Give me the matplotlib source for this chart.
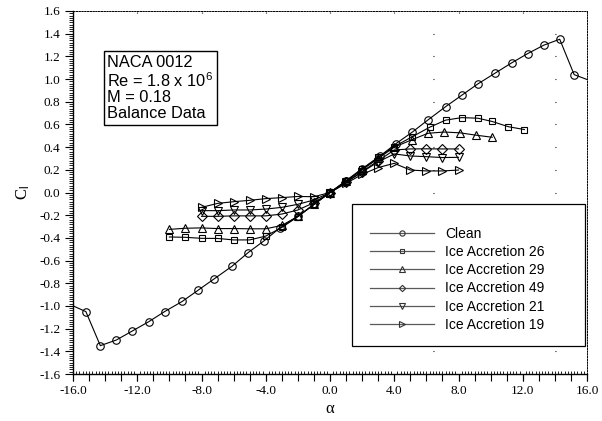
import matplotlib
matplotlib.use("Agg")
import matplotlib.pyplot as plt
from matplotlib.lines import Line2D
from matplotlib.patches import Rectangle
from matplotlib.ticker import MultipleLocator, FormatStrFormatter

plt.rcParams['axes.unicode_minus'] = False
plt.rcParams['lines.scale_dashes'] = False
plt.rcParams['mathtext.fontset'] = 'custom'
plt.rcParams['mathtext.rm'] = 'Liberation Sans'
plt.rcParams['mathtext.it'] = 'Liberation Sans'

# lift curves, alpha in deg
clean_alpha = [-16.3, -15.2, -14.3, -13.3, -12.3, -11.3, -10.3, -9.2, -8.2, -7.2, -6.1,
               -5.1, -4.1, -3.1, -2.0, -1.0, 0.0, 1.0, 2.0, 3.1, 4.1, 5.1, 6.1, 7.2,
               8.2, 9.2, 10.3, 11.3, 12.3, 13.3, 14.3, 15.2, 16.3]
clean_cl = [-0.98, -1.05, -1.35, -1.30, -1.22, -1.14, -1.05, -0.96, -0.86, -0.76, -0.65,
            -0.53, -0.425, -0.31, -0.21, -0.105, 0.0, 0.105, 0.21, 0.32, 0.43, 0.53, 0.64, 0.757,
            0.857, 0.957, 1.054, 1.142, 1.224, 1.298, 1.351, 1.039, 0.98]

ice26_alpha = [-10, -9, -8, -7, -6, -5, -4, -3, -2, -1, 0, 1, 2, 3, 4,
               5.1, 6.2, 7.2, 8.2, 9.2, 10.1, 11.1, 12.1]
ice26_cl = [-0.392, -0.395, -0.404, -0.405, -0.418, -0.418, -0.384, -0.308, -0.213, -0.105,
            0.0, 0.10, 0.205, 0.31, 0.405, 0.49, 0.575, 0.638, 0.66, 0.655, 0.626, 0.58, 0.555]

ice29_alpha = [-10, -9, -8, -7, -6, -5, -4, -3, -2, -1, 0, 1, 2, 3, 4,
               5.1, 6.1, 7.1, 8.1, 9.1, 10.1]
ice29_cl = [-0.325, -0.315, -0.312, -0.318, -0.318, -0.32, -0.32, -0.29, -0.21, -0.105,
            0.0, 0.10, 0.20, 0.30, 0.40, 0.465, 0.522, 0.533, 0.526, 0.505, 0.487]

ice49_alpha = [-8, -7, -6, -5, -4, -3, -2, -1, 0, 1, 2, 3, 4, 5, 6, 7, 8]
ice49_cl = [-0.21, -0.21, -0.206, -0.206, -0.206, -0.19, -0.154, -0.09, 0.0,
            0.09, 0.185, 0.28, 0.375, 0.384, 0.385, 0.384, 0.384]

ice21_alpha = [-8, -7, -6, -5, -4, -3, -2, -1, 0, 1, 2, 3, 4, 5, 6, 7, 8]
ice21_cl = [-0.16, -0.16, -0.154, -0.154, -0.146, -0.131, -0.104, -0.066, 0.0,
            0.09, 0.18, 0.27, 0.34, 0.322, 0.316, 0.308, 0.31]

ice19_alpha = [-8, -7, -6, -5, -4, -3, -2, -1, 0, 1, 2, 3, 4, 5, 6, 7, 8]
ice19_cl = [-0.131, -0.096, -0.081, -0.069, -0.054, -0.045, -0.035, -0.037, 0.0,
            0.08, 0.16, 0.22, 0.257, 0.198, 0.19, 0.19, 0.198]

series = [
    ("Clean", clean_alpha, clean_cl, 'o', 5.4),
    ("Ice Accretion 26", ice26_alpha, ice26_cl, 's', 4.6),
    ("Ice Accretion 29", ice29_alpha, ice29_cl, '^', 5.4),
    ("Ice Accretion 49", ice49_alpha, ice49_cl, 'D', 4.6),
    ("Ice Accretion 21", ice21_alpha, ice21_cl, 'v', 5.4),
    ("Ice Accretion 19", ice19_alpha, ice19_cl, '>', 5.4),
]

fig = plt.figure(figsize=(6.02, 4.21), dpi=100)
ax = fig.add_axes([0.1213, 0.1116, 0.8538, 0.8623])

for name, a, cl, mk, ms in series:
    ax.plot(a, cl, color='black', lw=0.8, marker=mk, ms=ms, mfc='none',
            mec='black', mew=0.8, zorder=3)

ax.set_xlim(-16, 16)
ax.set_ylim(-1.6, 1.6)

# sparse dotted grid
ax.xaxis.grid(True, color='black', lw=0.8, linestyle=(740.8, (0.7, 1000)))
ax.yaxis.grid(True, color='black', lw=0.8, linestyle=(229.3, (0.7, 87.1, 0.7, 400)))
ax.set_axisbelow(True)

# ticks
ax.xaxis.set_major_locator(MultipleLocator(4))
ax.xaxis.set_minor_locator(MultipleLocator(0.2))
ax.xaxis.set_major_formatter(FormatStrFormatter('%.1f'))
ax.yaxis.set_major_locator(MultipleLocator(0.2))
ax.yaxis.set_minor_locator(MultipleLocator(0.02))
ax.yaxis.set_major_formatter(FormatStrFormatter('%.1f'))
ax.tick_params(axis='x', which='major', direction='out', length=5, width=0.8, pad=3)
ax.tick_params(axis='x', which='minor', direction='in', length=2, width=0.6)
ax.tick_params(axis='y', which='major', direction='out', length=6, width=0.8, pad=3)
ax.tick_params(axis='y', which='minor', direction='out', length=3, width=0.6)
for lab in ax.get_xticklabels() + ax.get_yticklabels():
    lab.set_fontfamily('Liberation Serif')
    lab.set_fontsize(9.5)

sec = ax.secondary_xaxis('bottom')
sec.xaxis.set_major_locator(MultipleLocator(1))
sec.tick_params(direction='out', length=5, width=0.8, labelbottom=False)
sec.spines['bottom'].set_visible(False)

for side in ('top', 'right'):
    ax.spines[side].set_linestyle((0, (1, 1)))
    ax.spines[side].set_linewidth(0.7)
for side in ('left', 'bottom'):
    ax.spines[side].set_linewidth(1.0)

ax.set_xlabel(r'α', fontfamily='Liberation Serif', fontsize=12, labelpad=3)
ax.set_ylabel(r'C$_{\rm l}$', fontfamily='Liberation Serif', fontsize=12, labelpad=5)

# info box
ax.text(0.067, 0.879, "NACA 0012\nRe = 1.8 x 10$^6$\nM = 0.18\nBalance Data",
        transform=ax.transAxes, ha='left', va='top', fontfamily='Liberation Sans',
        fontsize=11.8, linespacing=1.06, zorder=5,
        bbox=dict(boxstyle='square,pad=0.22', facecolor='white', edgecolor='black', lw=1.0))

# legend with framed box
ax.add_patch(Rectangle((0.543, 0.077), 0.453, 0.391, transform=ax.transAxes,
                       facecolor='white', edgecolor='black', lw=0.9, zorder=4))
handles = [Line2D([], [], color='0.35', lw=0.9, marker=mk, ms=ms * 0.7, mfc='none',
                  mec='0.2', mew=0.8) for _, _, _, mk, ms in series]
labels = [s[0] for s in series]
leg = ax.legend(handles, labels, loc='upper left', bbox_to_anchor=(0.578, 0.405),
                frameon=False, borderpad=0, borderaxespad=0, handlelength=4.6,
                handletextpad=0.8, labelspacing=0.3,
                prop={'family': 'Liberation Sans', 'size': 10})
leg.set_zorder(6)

fig.savefig("out.png", dpi=100)
